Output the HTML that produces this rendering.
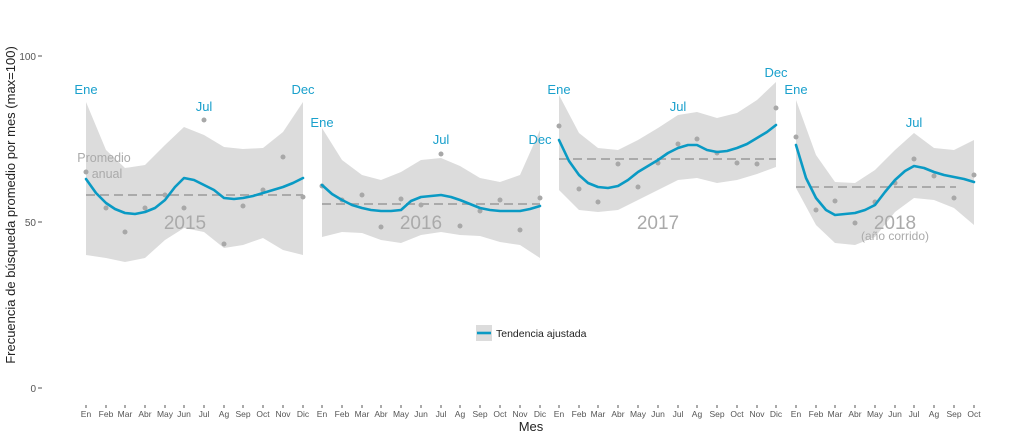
<!DOCTYPE html><html><head><style>body{margin:0;background:#fff}svg{display:block;font-family:"Liberation Sans",sans-serif}</style></head><body>
<svg width="1024" height="439" viewBox="0 0 1024 439">
<g fill="#dcdcdc" stroke="none">
<polygon points="86,102 106,150 125,168 145,165 165,145 184,127 204,135 224,147 243,149 263,148 283,132 303,102 303,255 283,250 263,238 243,245 224,248 204,232 184,228 165,240 145,258 125,262 106,258 86,255"/>
<polygon points="322,128 342,160 362,175 381,180 401,172 421,160 441,158 460,166 480,178 500,182 520,175 540,130 540,258 520,245 500,242 480,236 460,235 441,232 421,235 401,243 381,240 362,233 342,232 322,237"/>
<polygon points="559,95 579,133 598,148 618,150 638,140 658,128 678,115 697,112 717,118 737,113 757,100 776,82 776,167 757,174 737,180 717,183 697,178 678,180 658,190 638,200 618,210 598,212 579,210 559,190"/>
<polygon points="796,100 816,155 835,182 855,183 875,170 895,150 914,133 934,148 954,150 974,140 974,225 954,208 934,200 914,198 895,212 875,237 855,245 835,243 816,225 796,188"/>
</g>
<g stroke="#aaa" stroke-width="2" stroke-dasharray="9,5">
<line x1="86" y1="195" x2="303" y2="195"/><line x1="322" y1="204" x2="540" y2="204"/><line x1="559" y1="159" x2="776" y2="159"/><line x1="796" y1="187" x2="956" y2="187"/></g>
<g fill="#a8a8a8">
<circle cx="86" cy="172" r="2.5"/><circle cx="106" cy="208" r="2.5"/><circle cx="125" cy="232" r="2.5"/><circle cx="145" cy="208" r="2.5"/><circle cx="165" cy="195" r="2.5"/><circle cx="184" cy="208" r="2.5"/><circle cx="204" cy="120" r="2.5"/><circle cx="224" cy="244" r="2.5"/><circle cx="243" cy="206" r="2.5"/><circle cx="263" cy="190" r="2.5"/><circle cx="283" cy="157" r="2.5"/><circle cx="303" cy="197" r="2.5"/>
<circle cx="322" cy="186" r="2.5"/><circle cx="342" cy="200" r="2.5"/><circle cx="362" cy="195" r="2.5"/><circle cx="381" cy="227" r="2.5"/><circle cx="401" cy="199" r="2.5"/><circle cx="421" cy="205" r="2.5"/><circle cx="441" cy="154" r="2.5"/><circle cx="460" cy="226" r="2.5"/><circle cx="480" cy="211" r="2.5"/><circle cx="500" cy="200" r="2.5"/><circle cx="520" cy="230" r="2.5"/><circle cx="540" cy="198" r="2.5"/>
<circle cx="559" cy="126" r="2.5"/><circle cx="579" cy="189" r="2.5"/><circle cx="598" cy="202" r="2.5"/><circle cx="618" cy="164" r="2.5"/><circle cx="638" cy="187" r="2.5"/><circle cx="658" cy="163" r="2.5"/><circle cx="678" cy="144" r="2.5"/><circle cx="697" cy="139" r="2.5"/><circle cx="717" cy="153" r="2.5"/><circle cx="737" cy="163" r="2.5"/><circle cx="757" cy="164" r="2.5"/><circle cx="776" cy="108" r="2.5"/>
<circle cx="796" cy="137" r="2.5"/><circle cx="816" cy="210" r="2.5"/><circle cx="835" cy="201" r="2.5"/><circle cx="855" cy="223" r="2.5"/><circle cx="875" cy="202" r="2.5"/><circle cx="895" cy="183" r="2.5"/><circle cx="914" cy="159" r="2.5"/><circle cx="934" cy="176" r="2.5"/><circle cx="954" cy="198" r="2.5"/><circle cx="974" cy="175" r="2.5"/>
</g>
<g fill="none" stroke="#0a9ac4" stroke-width="2.6" stroke-linejoin="round" stroke-linecap="round">
<polyline points="86,179 96,193 106,203 115,209 125,213 135,214 145,212 155,208 165,200 175,187 184,178 194,180 204,185 214,190 224,198 234,199 243,198 253,196 263,193 273,190 283,187 293,183 303,178"/>
<polyline points="322,185 332,194 342,200 352,205 362,208 371,210 381,211 391,211 401,210 411,201 421,197 431,196 441,195 451,197 460,200 470,204 480,208 490,210 500,211 510,211 520,211 530,209 540,206"/>
<polyline points="559,140 569,161 579,175 588,183 598,187 608,188 618,186 628,180 638,172 648,166 658,160 668,153 678,148 688,145 697,145 707,150 717,152 727,151 737,148 747,144 757,138 767,132 776,125"/>
<polyline points="796,145 806,178 816,198 826,210 835,215 845,214 855,213 865,210 875,205 885,192 895,180 905,171 914,166 924,168 934,172 944,175 954,177 964,179 974,182"/>
</g>
<g fill="#1aa0cc" font-size="13" text-anchor="middle">
<text x="86" y="94">Ene</text><text x="204" y="111">Jul</text><text x="303" y="94">Dec</text>
<text x="322" y="127">Ene</text><text x="441" y="144">Jul</text><text x="540" y="144">Dec</text>
<text x="559" y="94">Ene</text><text x="678" y="111">Jul</text><text x="776" y="77">Dec</text>
<text x="796" y="94">Ene</text><text x="914" y="127">Jul</text>
</g>
<g fill="#aaa" text-anchor="middle">
<text x="104" y="162" font-size="12.5">Promedio</text><text x="107" y="178" font-size="12.5">anual</text>
<text x="185" y="229" font-size="19">2015</text><text x="421" y="229" font-size="19">2016</text><text x="658" y="229" font-size="19">2017</text><text x="895" y="229" font-size="19">2018</text>
<text x="895" y="240" font-size="12">(año corrido)</text>
</g>
<g font-size="10" fill="#555" text-anchor="end"><text x="36" y="60">100</text><text x="36" y="226">50</text><text x="36" y="392">0</text></g>
<g stroke="#555"><line x1="38" y1="56" x2="42" y2="56"/><line x1="38" y1="222" x2="42" y2="222"/><line x1="38" y1="388" x2="42" y2="388"/></g>
<g font-size="8.5" fill="#555" text-anchor="middle" id="ticks">
<text x="86" y="417">En</text><text x="106" y="417">Feb</text><text x="125" y="417">Mar</text><text x="145" y="417">Abr</text><text x="165" y="417">May</text><text x="184" y="417">Jun</text><text x="204" y="417">Jul</text><text x="224" y="417">Ag</text><text x="243" y="417">Sep</text><text x="263" y="417">Oct</text><text x="283" y="417">Nov</text><text x="303" y="417">Dic</text>
<text x="322" y="417">En</text><text x="342" y="417">Feb</text><text x="362" y="417">Mar</text><text x="381" y="417">Abr</text><text x="401" y="417">May</text><text x="421" y="417">Jun</text><text x="441" y="417">Jul</text><text x="460" y="417">Ag</text><text x="480" y="417">Sep</text><text x="500" y="417">Oct</text><text x="520" y="417">Nov</text><text x="540" y="417">Dic</text>
<text x="559" y="417">En</text><text x="579" y="417">Feb</text><text x="598" y="417">Mar</text><text x="618" y="417">Abr</text><text x="638" y="417">May</text><text x="658" y="417">Jun</text><text x="678" y="417">Jul</text><text x="697" y="417">Ag</text><text x="717" y="417">Sep</text><text x="737" y="417">Oct</text><text x="757" y="417">Nov</text><text x="776" y="417">Dic</text>
<text x="796" y="417">En</text><text x="816" y="417">Feb</text><text x="835" y="417">Mar</text><text x="855" y="417">Abr</text><text x="875" y="417">May</text><text x="895" y="417">Jun</text><text x="914" y="417">Jul</text><text x="934" y="417">Ag</text><text x="954" y="417">Sep</text><text x="974" y="417">Oct</text>
</g>
<g stroke="#555" stroke-width="1">
<path d="M86,405v3M106,405v3M125,405v3M145,405v3M165,405v3M184,405v3M204,405v3M224,405v3M243,405v3M263,405v3M283,405v3M303,405v3M322,405v3M342,405v3M362,405v3M381,405v3M401,405v3M421,405v3M441,405v3M460,405v3M480,405v3M500,405v3M520,405v3M540,405v3M559,405v3M579,405v3M598,405v3M618,405v3M638,405v3M658,405v3M678,405v3M697,405v3M717,405v3M737,405v3M757,405v3M776,405v3M796,405v3M816,405v3M835,405v3M855,405v3M875,405v3M895,405v3M914,405v3M934,405v3M954,405v3M974,405v3"/></g>
<text x="531" y="431" font-size="13" text-anchor="middle" fill="#222">Mes</text>
<text transform="translate(15,205) rotate(-90)" font-size="13" text-anchor="middle" fill="#222">Frecuencia de búsqueda promedio por mes (max=100)</text>
<rect x="476" y="325" width="16" height="16" fill="#dcdcdc"/><line x1="477" y1="333" x2="491" y2="333" stroke="#0a9ac4" stroke-width="2.6"/>
<text x="496" y="337" font-size="10.5" fill="#222">Tendencia ajustada</text>
</svg></body></html>
